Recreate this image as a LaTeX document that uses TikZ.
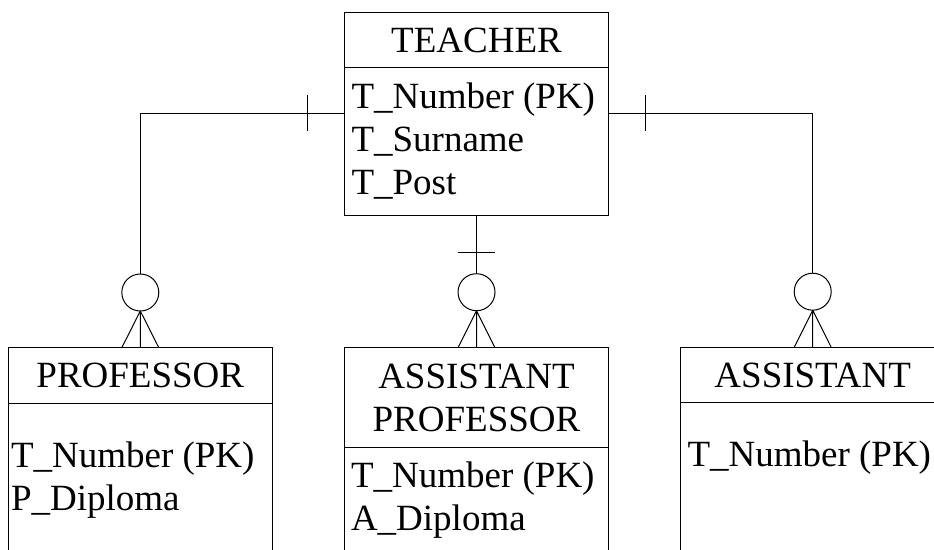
\documentclass[tikz,border=0pt]{standalone}
\usepackage{fontspec}
\setmainfont{Liberation Serif}
\usetikzlibrary{positioning}

\begin{document}
\begin{tikzpicture}[x=1pt, y=-1pt, line width=1pt,
    every node/.style={font=\fontsize{37pt}{43pt}\selectfont},
    entity/.style={draw, rectangle, minimum width=264pt, inner sep=0pt,
      outer sep=0pt},
    attrs/.style={anchor=base west, align=left, inner sep=0pt},
    optional/.style={draw, circle, minimum size=37pt, inner sep=0pt,
      outer sep=0pt}]
  \useasboundingbox (0,0) rectangle (934,549);
  \clip (0,0) rectangle (934,549);
  % TEACHER
  \node[entity, minimum height=55.4pt] (teacher) at (476.5,40) {TEACHER};
  \node[entity, minimum height=148pt, below=0pt of teacher] (teacherbody) {};
  % base of a multi-line node is its last line
  \node[attrs] (teacherattr) at (351,194)
    {T\_Number (PK)\\T\_Surname\\T\_Post};
  % subtypes
  \node[entity, minimum height=55.6pt] (professor) at (140.3,375.5)
    {PROFESSOR};
  \node[entity, minimum height=200pt, below=0pt of professor]
    (professorbody) {};
  \node[attrs] (professorattr) at (10.5,510) {T\_Number (PK)\\P\_Diploma};
  \node[entity, minimum height=99.6pt, align=center] (asprof)
    at (476.5,397.5) {ASSISTANT\\PROFESSOR};
  \node[entity, minimum height=200pt, below=0pt of asprof] (asprofbody) {};
  \node[attrs] (asprofattr) at (350.5,530.7) {T\_Number (PK)\\A\_Diploma};
  \node[entity, minimum height=55.4pt] (assistant) at (812.7,375)
    {ASSISTANT};
  \node[entity, minimum height=200pt, below=0pt of assistant]
    (assistantbody) {};
  \node[attrs] (assistantattr) at (687,466.7) {T\_Number (PK)};
  % zero-or-many ends
  \node[optional] (pcirc) at (140.3,292.5) {};
  \node[optional] (apcirc) at (476.5,292.2) {};
  \node[optional] (acirc) at (812.7,291.7) {};
  \draw (teacherbody.west |- 0,113) -| (pcirc.north);
  \draw (teacherbody.east |- 0,113) -| (acirc.north);
  \draw (teacherbody.south) -- (apcirc.north);
  % one-only ticks
  \draw (307,95) -- (307,131);
  \draw (645.7,95) -- (645.7,131);
  \draw (457.7,252.3) -- (495.3,252.3);
  % crow's feet
  \draw (pcirc.south) -- (professor.north)
    (pcirc.south) -- ([xshift=-18.5pt]professor.north)
    (pcirc.south) -- ([xshift=18.5pt]professor.north);
  \draw (apcirc.south) -- (asprof.north)
    (apcirc.south) -- ([xshift=-18.5pt]asprof.north)
    (apcirc.south) -- ([xshift=18.5pt]asprof.north);
  \draw (acirc.south) -- (assistant.north)
    (acirc.south) -- ([xshift=-18.5pt]assistant.north)
    (acirc.south) -- ([xshift=18.5pt]assistant.north);
\end{tikzpicture}
\end{document}
